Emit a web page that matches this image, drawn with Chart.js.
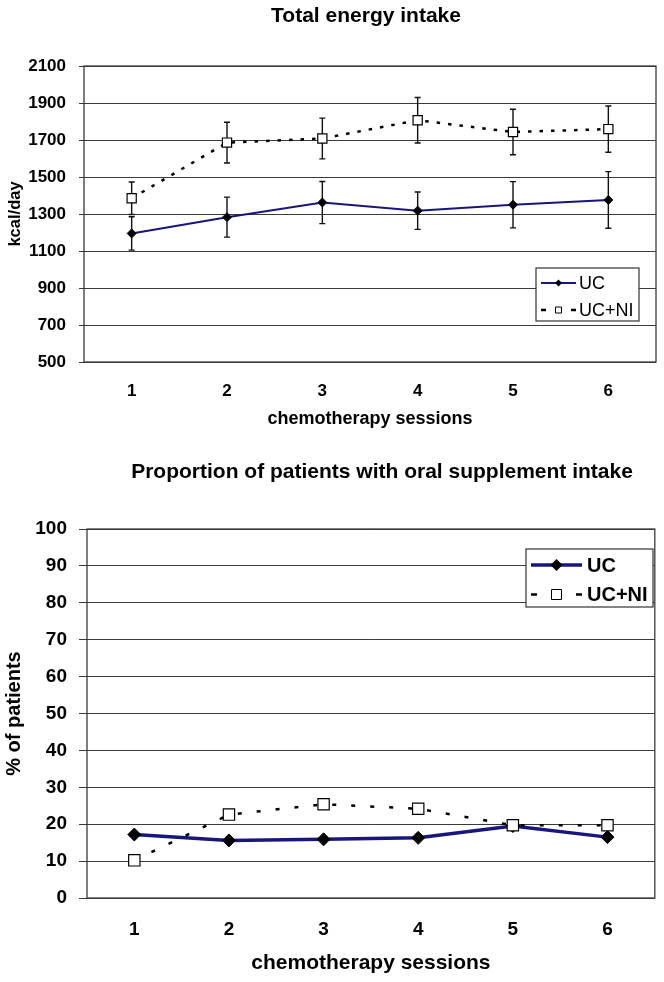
<!DOCTYPE html>
<html>
<head>
<meta charset="utf-8">
<script src="https://cdn.jsdelivr.net/npm/chart.js@4/dist/chart.umd.min.js"></script>
<style>
  body { margin: 0; background: #fff; }
  canvas { display: block; }
</style>
</head>
<body>
<canvas id="energyChart" width="664" height="440"></canvas>
<canvas id="supplementChart" width="664" height="542"></canvas>
<script>
// values
const sessions = ['1', '2', '3', '4', '5', '6'];

const energyUC = [1195, 1283, 1362, 1318, 1350, 1376];
const energyUCErr = [90, 108, 114, 101, 125, 153];
const energyNI = [1385, 1686, 1708, 1807, 1743, 1759];
const energyNIErr = [88, 110, 110, 123, 123, 125];

const supplementUC = [17.2, 15.6, 15.9, 16.3, 19.5, 16.5];
const supplementNI = [10.2, 22.6, 25.4, 24.2, 19.7, 19.7];

const FONT = "'Liberation Sans', Arial, sans-serif";
const GRID = '#3a3a3a';
const NAVY = '#16167c';

// box round the plot area
const frame = {
  id: 'frame',
  beforeDatasetsDraw(chart) {
    const a = chart.chartArea, ctx = chart.ctx;
    ctx.save();
    ctx.strokeStyle = GRID;
    ctx.lineWidth = 1.3;
    ctx.strokeRect(a.left, a.top, a.right - a.left, a.bottom - a.top);
    ctx.restore();
  }
};

// +/- bars, drawn under the markers
const errorBars = {
  id: 'errorBars',
  beforeDatasetsDraw(chart) {
    const ctx = chart.ctx, yScale = chart.scales.y;
    ctx.save();
    ctx.strokeStyle = '#111';
    ctx.lineWidth = 1.4;
    chart.data.datasets.forEach((ds, i) => {
      if (!ds.errorBars) return;
      chart.getDatasetMeta(i).data.forEach((pt, j) => {
        const yt = yScale.getPixelForValue(ds.data[j] + ds.errorBars[j]);
        const yb = yScale.getPixelForValue(ds.data[j] - ds.errorBars[j]);
        ctx.beginPath();
        ctx.moveTo(pt.x, yt); ctx.lineTo(pt.x, yb);
        ctx.moveTo(pt.x - 3, yt); ctx.lineTo(pt.x + 3, yt);
        ctx.moveTo(pt.x - 3, yb); ctx.lineTo(pt.x + 3, yb);
        ctx.stroke();
      });
    });
    ctx.restore();
  }
};

function marker(ctx, style, x, y, r) {
  ctx.beginPath();
  if (style === 'rectRot') {
    ctx.moveTo(x, y - r); ctx.lineTo(x + r, y); ctx.lineTo(x, y + r); ctx.lineTo(x - r, y);
    ctx.closePath();
    ctx.fillStyle = '#000';
    ctx.fill();
  } else {
    ctx.rect(x - r, y - r, 2 * r, 2 * r);
    ctx.fillStyle = '#fff';
    ctx.fill();
    ctx.strokeStyle = '#000';
    ctx.lineWidth = 1;
    ctx.setLineDash([]);
    ctx.stroke();
  }
}

// legend box inside the plot, like the original
const boxLegend = {
  id: 'boxLegend',
  afterDraw(chart, args, o) {
    const ctx = chart.ctx;
    ctx.save();
    ctx.fillStyle = '#fff';
    ctx.fillRect(o.x, o.y, o.w, o.h);
    ctx.strokeStyle = '#333';
    ctx.lineWidth = 1.2;
    ctx.strokeRect(o.x, o.y, o.w, o.h);
    chart.data.datasets.forEach((ds, i) => {
      const y = o.y + o.rows[i];
      const mid = (o.x0 + o.x1) / 2;
      ctx.strokeStyle = ds.borderColor;
      ctx.lineWidth = ds.borderWidth;
      ctx.beginPath();
      if (ds.borderDash) {
        ctx.moveTo(o.x0, y); ctx.lineTo(o.x0 + o.dash, y);
        ctx.moveTo(o.x1 - o.dash, y); ctx.lineTo(o.x1, y);
      } else {
        ctx.moveTo(o.x0, y); ctx.lineTo(o.x1, y);
      }
      ctx.stroke();
      marker(ctx, ds.pointStyle, mid, y, ds.pointStyle === 'rectRot' ? o.diamond : o.square);
      ctx.fillStyle = '#000';
      ctx.font = o.font;
      ctx.textAlign = 'left';
      ctx.textBaseline = 'middle';
      ctx.fillText(ds.label, o.textX, y + 1);
    });
    ctx.restore();
  }
};

const chartTitle = {
  id: 'chartTitle',
  afterDraw(chart, args, o) {
    const ctx = chart.ctx;
    ctx.save();
    ctx.fillStyle = '#000';
    ctx.font = o.font;
    ctx.textAlign = 'center';
    ctx.textBaseline = 'middle';
    ctx.fillText(o.text, o.x, o.y);
    ctx.restore();
  }
};

new Chart(document.getElementById('energyChart'), {
  type: 'line',
  data: {
    labels: sessions,
    datasets: [{
      label: 'UC',
      data: energyUC,
      errorBars: energyUCErr,
      borderColor: NAVY,
      borderWidth: 2,
      pointStyle: 'rectRot',
      pointRadius: 4.5,
      pointBackgroundColor: '#000',
      pointBorderColor: '#000',
      pointBorderWidth: 1,
      order: 2
    }, {
      label: 'UC+NI',
      data: energyNI,
      errorBars: energyNIErr,
      borderColor: '#000',
      borderWidth: 2.5,
      borderDash: [3.5, 8],
      pointStyle: 'rect',
      pointRadius: 6.5,
      pointBackgroundColor: '#fff',
      pointBorderColor: '#000',
      pointBorderWidth: 1.2,
      order: 1
    }]
  },
  options: {
    responsive: false,
    animation: false,
    layout: { padding: { top: 66, right: 8, bottom: 0, left: 0 } },
    scales: {
      x: {
        offset: true,
        grid: { display: false },
        border: { display: false },
        ticks: { color: '#000', padding: 11, font: { family: FONT, size: 17, weight: 'bold' } },
        title: {
          display: true, text: 'chemotherapy sessions', color: '#000',
          padding: { top: 0, bottom: 10 }, font: { family: FONT, size: 18, weight: 'bold' }
        },
        afterFit: s => { s.height = 78; }
      },
      y: {
        min: 500, max: 2100,
        grid: { color: GRID, lineWidth: 1, tickLength: 5 },
        border: { display: false },
        ticks: {
          stepSize: 200, color: '#000', padding: 13,
          font: { family: FONT, size: 17, weight: 'bold' },
          callback: v => String(v)
        },
        title: {
          display: true, text: 'kcal/day', color: '#000',
          padding: { top: 6, bottom: 0 }, font: { family: FONT, size: 16.5, weight: 'bold' }
        },
        afterFit: s => { s.width = 84; }
      }
    },
    plugins: {
      legend: { display: false },
      tooltip: { enabled: false },
      chartTitle: { text: 'Total energy intake', x: 366, y: 16, font: 'bold 21px ' + FONT },
      boxLegend: {
        x: 536, y: 268, w: 103, h: 53, rows: [15, 42],
        x0: 541, x1: 576, dash: 5, textX: 579, diamond: 3.5, square: 3,
        font: '18px ' + FONT
      }
    }
  },
  plugins: [frame, errorBars, boxLegend, chartTitle]
});

new Chart(document.getElementById('supplementChart'), {
  type: 'line',
  data: {
    labels: sessions,
    datasets: [{
      label: 'UC',
      data: supplementUC,
      borderColor: NAVY,
      borderWidth: 3.5,
      pointStyle: 'rectRot',
      pointRadius: 6.5,
      pointBackgroundColor: '#000',
      pointBorderColor: '#000',
      pointBorderWidth: 1,
      order: 2
    }, {
      label: 'UC+NI',
      data: supplementNI,
      borderColor: '#000',
      borderWidth: 2.5,
      borderDash: [4, 15],
      pointStyle: 'rect',
      pointRadius: 8,
      pointBackgroundColor: '#fff',
      pointBorderColor: '#000',
      pointBorderWidth: 1.2,
      order: 1
    }]
  },
  options: {
    responsive: false,
    animation: false,
    layout: { padding: { top: 89, right: 7, bottom: 0, left: 0 } },
    scales: {
      x: {
        offset: true,
        grid: { display: false },
        border: { display: false },
        ticks: { color: '#000', padding: 12, font: { family: FONT, size: 19, weight: 'bold' } },
        title: {
          display: true, text: 'chemotherapy sessions', color: '#000',
          padding: { top: 0, bottom: 6 }, font: { family: FONT, size: 21, weight: 'bold' }
        },
        afterFit: s => { s.height = 84; }
      },
      y: {
        min: 0, max: 100,
        grid: { color: GRID, lineWidth: 1, tickLength: 8 },
        border: { display: false },
        ticks: { stepSize: 10, color: '#000', padding: 12, font: { family: FONT, size: 19, weight: 'bold' } },
        title: {
          display: true, text: '% of patients', color: '#000',
          padding: { top: 2, bottom: 0 }, font: { family: FONT, size: 20, weight: 'bold' }
        },
        afterFit: s => { s.width = 87; }
      }
    },
    plugins: {
      legend: { display: false },
      tooltip: { enabled: false },
      chartTitle: { text: 'Proportion of patients with oral supplement intake', x: 382, y: 32, font: 'bold 21px ' + FONT },
      boxLegend: {
        x: 526, y: 109, w: 127, h: 58, rows: [16, 45.5],
        x0: 531, x1: 582, dash: 6, textX: 587, diamond: 6, square: 5,
        font: 'bold 20px ' + FONT
      }
    }
  },
  plugins: [frame, errorBars, boxLegend, chartTitle]
});
</script>
</body>
</html>
